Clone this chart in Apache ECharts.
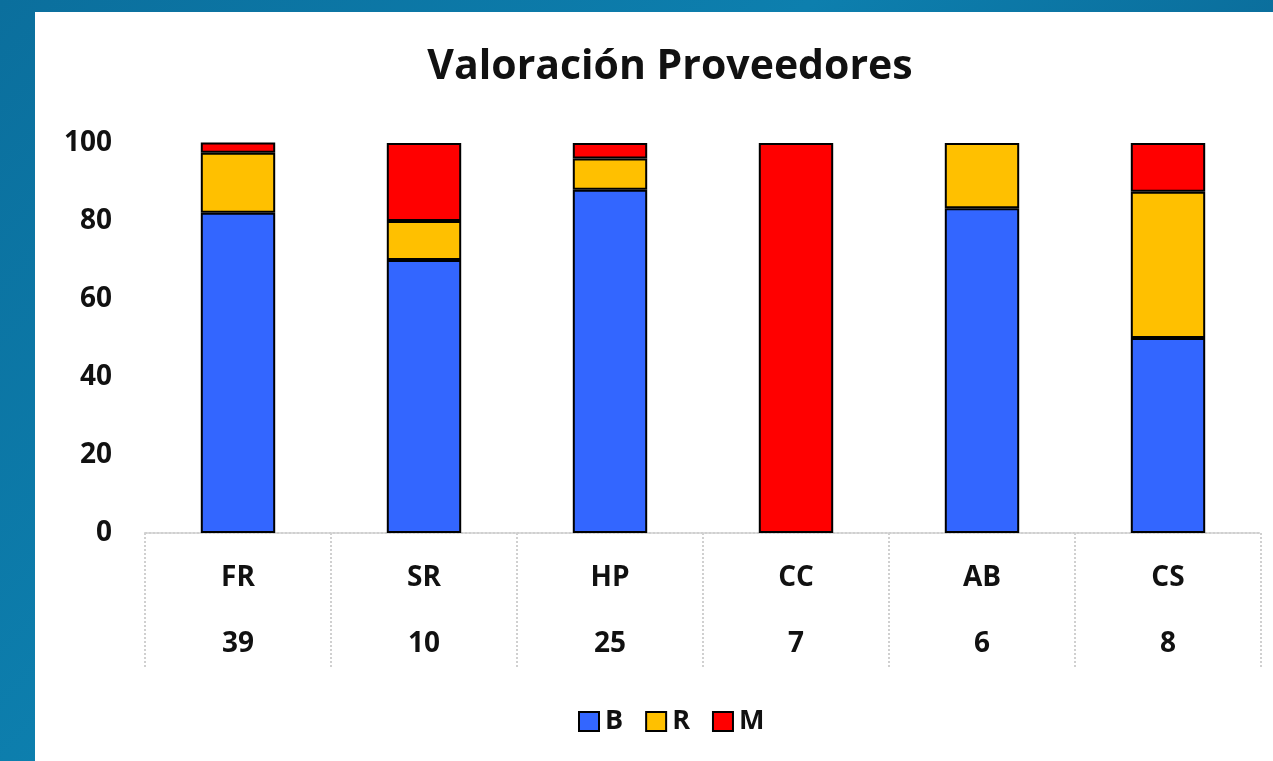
<!DOCTYPE html>
<html>
<head>
<meta charset="utf-8">
<script src="https://cdn.jsdelivr.net/npm/echarts@6/dist/echarts.min.js"></script>
<style>
  html, body {
    margin: 0;
    width: 1273px;
    height: 761px;
    overflow: hidden;
    background: linear-gradient(135deg, #0b6f9d 0%, #0d7fae 40%, #0a6a98 70%, #0c78a6 100%);
  }
  #chart {
    position: absolute;
    left: 35px;
    top: 12px;
    width: 1238px;
    height: 749px;
    background: #fff;
  }
</style>
</head>
<body>
<div id="chart"></div>
<script>
// proveedores y número de valoraciones
const categories = ["FR", "SR", "HP", "CC", "AB", "CS"];
const counts = ["39", "10", "25", "7", "6", "8"];
// porcentajes por valoración
const bValues = [82.1, 70, 88, 0, 83.3, 50];
const rValues = [15.4, 10, 8, 0, 16.7, 37.5];
const mValues = [2.6, 20, 4, 100, 0, 12.5];
const yTicks = [0, 20, 40, 60, 80, 100];

const fontFamily = "'Open Sans', 'DejaVu Sans', sans-serif";

const chart = echarts.init(document.getElementById("chart"));

const barStyle = (color) => ({
  color: color,
  borderColor: "#000",
  borderWidth: 2,
});
// los ceros no se dibujan (si no queda una raya del borde)
const noZero = (arr) => arr.map((v) => (v === 0 ? "-" : v));

const option = {
  animation: false,
  title: {
    text: "Valoración Proveedores",
    left: 630,
    textAlign: "center",
    top: 30,
    textStyle: {
      fontFamily: fontFamily,
      fontWeight: "bold",
      fontSize: 41,
      color: "#111",
    },
  },
  legend: {
    top: 691,
    left: 538,
    itemWidth: 20,
    itemHeight: 19,
    itemGap: 22,
    icon: "rect",
    textStyle: {
      fontFamily: fontFamily,
      fontWeight: "bold",
      fontSize: 27,
      color: "#111",
      padding: [0, 0, 0, 1],
    },
    itemStyle: {
      borderColor: "#000",
      borderWidth: 2,
    },
  },
  grid: {
    left: 110,
    right: 12,
    top: 131,
    bottom: 228,
  },
  xAxis: {
    type: "category",
    data: categories,
    axisLine: {
      lineStyle: { color: "#d0d0d0", width: 2, type: "dotted" },
    },
    axisTick: {
      show: true,
      length: 135,
      lineStyle: { color: "#d0d0d0", width: 2, type: "dotted" },
    },
    axisLabel: {
      margin: 12,
      fontFamily: fontFamily,
      fontWeight: "bold",
      fontSize: 28,
      lineHeight: 66,
      color: "#111",
      formatter: (value, idx) => value + "\n" + counts[idx],
    },
  },
  yAxis: {
    type: "value",
    min: yTicks[0],
    max: yTicks[yTicks.length - 1],
    interval: 20,
    splitLine: { show: false },
    axisLine: { show: false },
    axisTick: { show: false },
    axisLabel: {
      margin: 33,
      fontFamily: fontFamily,
      fontWeight: "bold",
      fontSize: 28,
      color: "#111",
    },
  },
  series: [
    {
      name: "B",
      type: "bar",
      stack: "total",
      barWidth: "40%",
      data: noZero(bValues),
      itemStyle: barStyle("#3366ff"),
    },
    {
      name: "R",
      type: "bar",
      stack: "total",
      data: noZero(rValues),
      itemStyle: barStyle("#ffc000"),
    },
    {
      name: "M",
      type: "bar",
      stack: "total",
      data: noZero(mValues),
      itemStyle: barStyle("#ff0000"),
    },
  ],
};

chart.setOption(option);
</script>
</body>
</html>
